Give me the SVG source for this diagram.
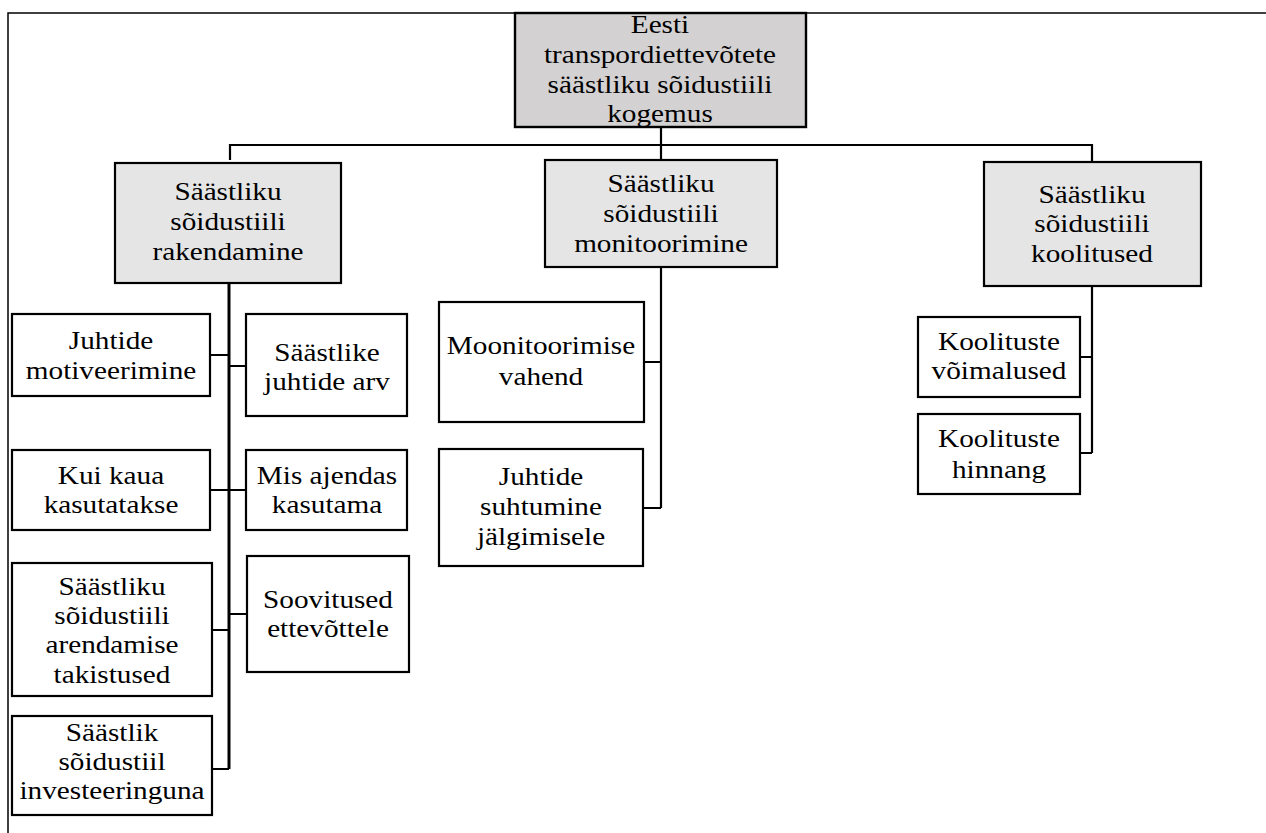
<svg xmlns="http://www.w3.org/2000/svg" width="1266" height="833" viewBox="0 0 1266 833">
<style>
.box{fill:#ffffff;stroke:#000;stroke-width:2.2}
.root{fill:#d3d1d1;stroke:#000;stroke-width:2.4}
.mid{fill:#e5e5e5;stroke:#000;stroke-width:2.2}
.t{font-family:"Liberation Serif","Times New Roman",serif;font-size:25px;fill:#000;text-anchor:middle}
.c{fill:none;stroke:#000;stroke-width:2.2}
.frame{fill:none;stroke:#000;stroke-width:1.5}
</style>
<rect width="1266" height="833" fill="#ffffff"/>
<path class="frame" d="M8,833 V13 H1266"/>
<g id="connectors">
<path class="c" d="M661,127 V145 M230,160 V145 H1092 V162 M661,145 V160"/>
<path class="c" style="stroke-width:3" d="M229,283 V769"/>
<path class="c" d="M210,355 H229 M229,366 H246 M210,490 H246 M212,630 H229 M229,614 H247 M212,769 H229"/>
<path class="c" d="M661,267 V508 M644,362 H661 M643,508 H661"/>
<path class="c" d="M1092,286 V453 M1080,357 H1092 M1080,453 H1092"/>
</g>
<g id="root">
<rect class="root" x="515" y="13" width="291" height="114"/>
<g class="t" transform="translate(660 0) scale(1.17 1)">
<text x="0" y="33">Eesti</text>
<text x="0" y="63">transpordiettevõtete</text>
<text x="0" y="93">säästliku sõidustiili</text>
<text x="0" y="122">kogemus</text>
</g>
</g>
<g id="rakendamine">
<rect class="mid" x="115" y="163" width="226" height="120"/>
<g class="t" transform="translate(228 0) scale(1.17 1)">
<text x="0" y="200">Säästliku</text>
<text x="0" y="230">sõidustiili</text>
<text x="0" y="260">rakendamine</text>
</g>
</g>
<g id="monitoorimine">
<rect class="mid" x="545" y="160" width="232" height="107"/>
<g class="t" transform="translate(661 0) scale(1.17 1)">
<text x="0" y="192">Säästliku</text>
<text x="0" y="222">sõidustiili</text>
<text x="0" y="252">monitoorimine</text>
</g>
</g>
<g id="koolitused">
<rect class="mid" x="984" y="162" width="217" height="124"/>
<g class="t" transform="translate(1092 0) scale(1.17 1)">
<text x="0" y="203">Säästliku</text>
<text x="0" y="232">sõidustiili</text>
<text x="0" y="262">koolitused</text>
</g>
</g>
<g id="motiveerimine">
<rect class="box" x="12" y="314" width="198" height="82"/>
<g class="t" transform="translate(111 0) scale(1.17 1)">
<text x="0" y="349">Juhtide</text>
<text x="0" y="379">motiveerimine</text>
</g>
</g>
<g id="juhtide-arv">
<rect class="box" x="246" y="314" width="161" height="102"/>
<g class="t" transform="translate(327 0) scale(1.17 1)">
<text x="0" y="361">Säästlike</text>
<text x="0" y="390">juhtide arv</text>
</g>
</g>
<g id="kui-kaua">
<rect class="box" x="12" y="450" width="198" height="80"/>
<g class="t" transform="translate(111 0) scale(1.17 1)">
<text x="0" y="484">Kui kaua</text>
<text x="0" y="513">kasutatakse</text>
</g>
</g>
<g id="mis-ajendas">
<rect class="box" x="246" y="450" width="161" height="80"/>
<g class="t" transform="translate(327 0) scale(1.17 1)">
<text x="0" y="484">Mis ajendas</text>
<text x="0" y="513">kasutama</text>
</g>
</g>
<g id="takistused">
<rect class="box" x="12" y="563" width="200" height="133"/>
<g class="t" transform="translate(112 0) scale(1.17 1)">
<text x="0" y="595">Säästliku</text>
<text x="0" y="624">sõidustiili</text>
<text x="0" y="653">arendamise</text>
<text x="0" y="683">takistused</text>
</g>
</g>
<g id="soovitused">
<rect class="box" x="247" y="556" width="162" height="116"/>
<g class="t" transform="translate(328 0) scale(1.17 1)">
<text x="0" y="608">Soovitused</text>
<text x="0" y="637">ettevõttele</text>
</g>
</g>
<g id="investeeringuna">
<rect class="box" x="12" y="716" width="200" height="99"/>
<g class="t" transform="translate(112 0) scale(1.17 1)">
<text x="0" y="741">Säästlik</text>
<text x="0" y="770">sõidustiil</text>
<text x="0" y="799">investeeringuna</text>
</g>
</g>
<g id="vahend">
<rect class="box" x="439" y="302" width="205" height="120"/>
<g class="t" transform="translate(541 0) scale(1.17 1)">
<text x="0" y="354">Moonitoorimise</text>
<text x="0" y="385">vahend</text>
</g>
</g>
<g id="suhtumine">
<rect class="box" x="439" y="449" width="204" height="117"/>
<g class="t" transform="translate(541 0) scale(1.17 1)">
<text x="0" y="485">Juhtide</text>
<text x="0" y="515">suhtumine</text>
<text x="0" y="545">jälgimisele</text>
</g>
</g>
<g id="voimalused">
<rect class="box" x="918" y="317" width="162" height="80"/>
<g class="t" transform="translate(999 0) scale(1.17 1)">
<text x="0" y="350">Koolituste</text>
<text x="0" y="379">võimalused</text>
</g>
</g>
<g id="hinnang">
<rect class="box" x="918" y="414" width="162" height="80"/>
<g class="t" transform="translate(999 0) scale(1.17 1)">
<text x="0" y="447">Koolituste</text>
<text x="0" y="478">hinnang</text>
</g>
</g>
</svg>
